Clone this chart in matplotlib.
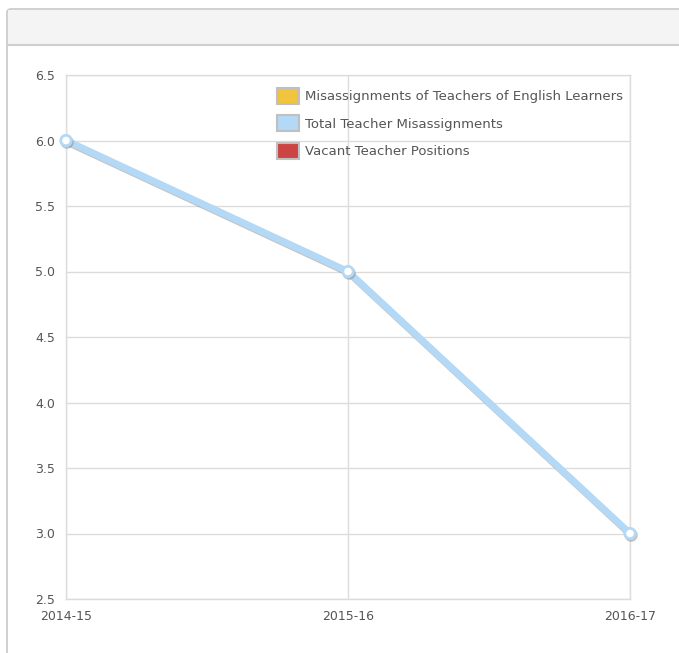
import matplotlib
matplotlib.use('Agg')
import matplotlib.pyplot as plt
import matplotlib.patheffects as pe
from matplotlib.patches import Patch, FancyBboxPatch, Rectangle
from matplotlib.lines import Line2D

# --- 数据 ---
years = ['2014-15', '2015-16', '2016-17']
total_misassign = [6.0, 5.0, 3.0]
legend_labels = ['Misassignments of Teachers of English Learners',
                 'Total Teacher Misassignments',
                 'Vacant Teacher Positions']
legend_colors = ['#f0c43c', '#b3d9f6', '#cc4444']
y_ticks = [2.5, 3.0, 3.5, 4.0, 4.5, 5.0, 5.5, 6.0, 6.5]

W, H = 679, 653
fig = plt.figure(figsize=(W / 100, H / 100), dpi=100)
fig.patch.set_facecolor('white')

# 面板外框和标题栏 (放在坐标轴下面)
panel = FancyBboxPatch((7 / W, -0.2), 1.2, 1 - 9 / H + 0.2,
                       boxstyle='round,pad=0,rounding_size=0.006',
                       transform=fig.transFigure, facecolor='white',
                       edgecolor='#c8c8c8', linewidth=1.2, zorder=-3)
fig.patches.append(panel)
header = Rectangle((7.5 / W, 1 - 45 / H), 1.2, 35 / H, transform=fig.transFigure,
                   facecolor='#f4f4f4', edgecolor='none', zorder=-2)
fig.patches.append(header)
fig.lines.append(Line2D([7.5 / W, 1], [1 - 45 / H, 1 - 45 / H], transform=fig.transFigure,
                        color='#cfcfcf', linewidth=1.5, zorder=-1))

# 绘图区
ax = fig.add_axes([66 / W, 1 - 599 / H, (630 - 66) / W, (599 - 75) / H])
ax.set_facecolor('white')
x = list(range(len(years)))

ax.plot(x, total_misassign, color='#b3d9f6', linewidth=5, marker='o',
        markersize=7.5, markerfacecolor='white', markeredgecolor='#b3d9f6',
        markeredgewidth=2, zorder=5, clip_on=False,
        path_effects=[pe.SimpleLineShadow(offset=(0.8, -1.2), shadow_color='#888888', alpha=0.5),
                      pe.Normal()])

ax.set_xlim(0, len(years) - 1)
ax.set_ylim(2.5, 6.5)
ax.set_yticks(y_ticks)
ax.set_yticklabels([f'{v:.1f}' for v in y_ticks])
ax.set_xticks(x)
ax.set_xticklabels(years)

ax.grid(True, color='#dcdcdc', linewidth=1)
ax.set_axisbelow(True)
for s in ax.spines.values():
    s.set_color('#dcdcdc')
    s.set_linewidth(1)
ax.tick_params(length=0, labelsize=9, labelcolor='#555555')
ax.tick_params(axis='y', pad=8)
ax.tick_params(axis='x', pad=8)

handles = [Patch(facecolor=c, edgecolor='#c0c0c0', linewidth=1.5) for c in legend_colors]
leg = fig.legend(handles, legend_labels, loc='upper left',
                 bbox_to_anchor=(277 / W, 1 - 88 / H), bbox_transform=fig.transFigure,
                 frameon=False, fontsize=9.5, labelcolor='#555555',
                 handlelength=1.65, handleheight=1.5, handletextpad=0.45,
                 labelspacing=0.85, borderpad=0, borderaxespad=0)

fig.savefig('out.png', dpi=100)
